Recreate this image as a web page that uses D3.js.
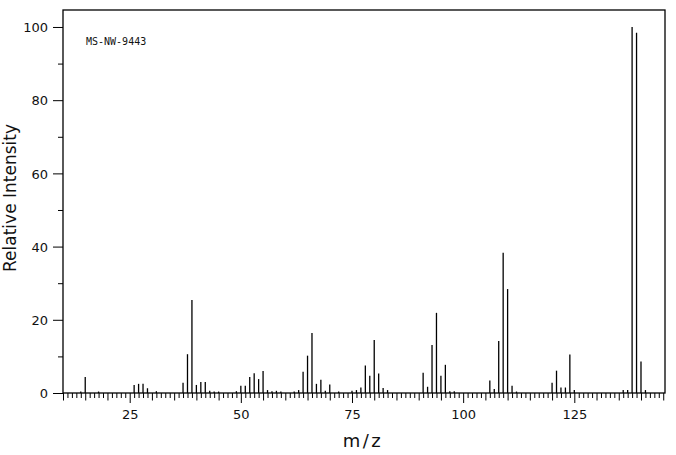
<!DOCTYPE html>
<html>
<head>
<meta charset="utf-8">
<title>MS-NW-9443</title>
<script src="https://cdnjs.cloudflare.com/ajax/libs/d3/7.8.5/d3.min.js"></script>
<style>
  body { margin: 0; background: #fff; }
  text { font-family: "DejaVu Sans", sans-serif; fill: #111; }
</style>
</head>
<body>
<div id="chart"></div>
<script>
// peak positions (m/z) and relative intensities
const mz = [14, 15, 18, 26, 27, 28, 29, 31, 37, 38, 39, 40, 41, 42, 43, 44, 45, 49,
  50, 51, 52, 53, 54, 55, 56, 57, 58, 59, 62, 63, 64, 65, 66, 67, 68, 69, 70, 72,
  75, 76, 77, 78, 79, 80, 81, 82, 83, 91, 92, 93, 94, 95, 96, 97, 98,
  106, 107, 108, 109, 110, 111, 112, 120, 121, 122, 123, 124, 125,
  136, 137, 138, 139, 140, 141];
const intensity = [0.4, 4.4, 0.4, 2.2, 2.5, 2.5, 1.3, 0.5, 2.8, 10.6, 25.4, 2.2, 3.0, 3.0, 0.6, 0.4, 0.4, 0.5,
  2.0, 2.0, 4.4, 5.4, 3.8, 6.0, 0.8, 0.5, 0.6, 0.4, 0.4, 0.8, 5.8, 10.2, 16.4, 2.5, 3.6, 0.6, 2.3, 0.4,
  0.6, 0.8, 1.5, 7.5, 4.7, 14.5, 5.3, 1.4, 0.8, 5.5, 1.7, 13.1, 21.9, 4.7, 7.7, 0.5, 0.5,
  3.4, 1.1, 14.2, 38.3, 28.4, 2.0, 0.4, 2.8, 6.1, 1.5, 1.5, 10.5, 0.8,
  0.8, 0.8, 100, 98.4, 8.6, 0.8];
const yTicks = [0, 20, 40, 60, 80, 100];
const xTicks = [25, 50, 75, 100, 125];
const label = "MS-NW-9443";

const width = 676, height = 455;
const plotLeft = 63, plotRight = 665, plotTop = 10, plotBottom = 393;

const svg = d3.select("#chart").append("svg")
  .attr("width", width)
  .attr("height", height);

const x = d3.scaleLinear().domain([10, 145.4]).range([plotLeft, plotRight]);
const y = d3.scaleLinear().domain([0, 104.64]).range([plotBottom, plotTop]);

// peaks
svg.append("g").selectAll("line")
  .data(mz)
  .join("line")
  .attr("x1", d => x(d))
  .attr("x2", d => x(d))
  .attr("y1", y(0))
  .attr("y2", (d, i) => y(intensity[i]))
  .attr("stroke", "#000")
  .attr("stroke-width", 1.3);

// x axis: tick every unit, longer every 5, longest and labelled every 25
const xAxis = d3.axisBottom(x)
  .tickValues(d3.range(10, 146))
  .tickSize(5)
  .tickFormat("");
const gx = svg.append("g").attr("transform", `translate(0,${plotBottom})`).call(xAxis);
gx.selectAll(".tick line")
  .attr("y2", d => d % 25 === 0 ? 10 : (d % 5 === 0 ? 7.5 : 5));
gx.select(".domain").remove();
gx.selectAll(".tick").filter(d => xTicks.includes(d))
  .append("text")
  .attr("y", 26)
  .attr("text-anchor", "middle")
  .attr("font-size", 13)
  .text(d => d);

// y axis: labelled every 20, minor every 10
const yAxis = d3.axisLeft(y)
  .tickValues(d3.range(0, 101, 10))
  .tickSize(5)
  .tickFormat("");
const gy = svg.append("g").attr("transform", `translate(${plotLeft},0)`).call(yAxis);
gy.selectAll(".tick line").attr("x2", d => d % 20 === 0 ? -10 : -5);
gy.select(".domain").remove();
gy.selectAll(".tick").filter(d => yTicks.includes(d))
  .append("text")
  .attr("x", -15)
  .attr("dy", "0.36em")
  .attr("text-anchor", "end")
  .attr("font-size", 13)
  .text(d => d);

// frame
svg.append("rect")
  .attr("x", plotLeft)
  .attr("y", plotTop)
  .attr("width", plotRight - plotLeft)
  .attr("height", plotBottom - plotTop)
  .attr("fill", "none")
  .attr("stroke", "#000")
  .attr("stroke-width", 1.3);

svg.append("text")
  .attr("x", 86)
  .attr("y", 44.5)
  .attr("font-size", 10)
  .style("font-family", "DejaVu Sans Mono")
  .text(label);

svg.append("text")
  .attr("transform", "translate(16,198) rotate(-90)")
  .attr("text-anchor", "middle")
  .attr("font-size", 17)
  .text("Relative Intensity");

svg.append("text")
  .attr("x", 363)
  .attr("y", 447)
  .attr("text-anchor", "middle")
  .attr("font-size", 18)
  .attr("letter-spacing", 2.5)
  .text("m/z");
</script>
</body>
</html>
